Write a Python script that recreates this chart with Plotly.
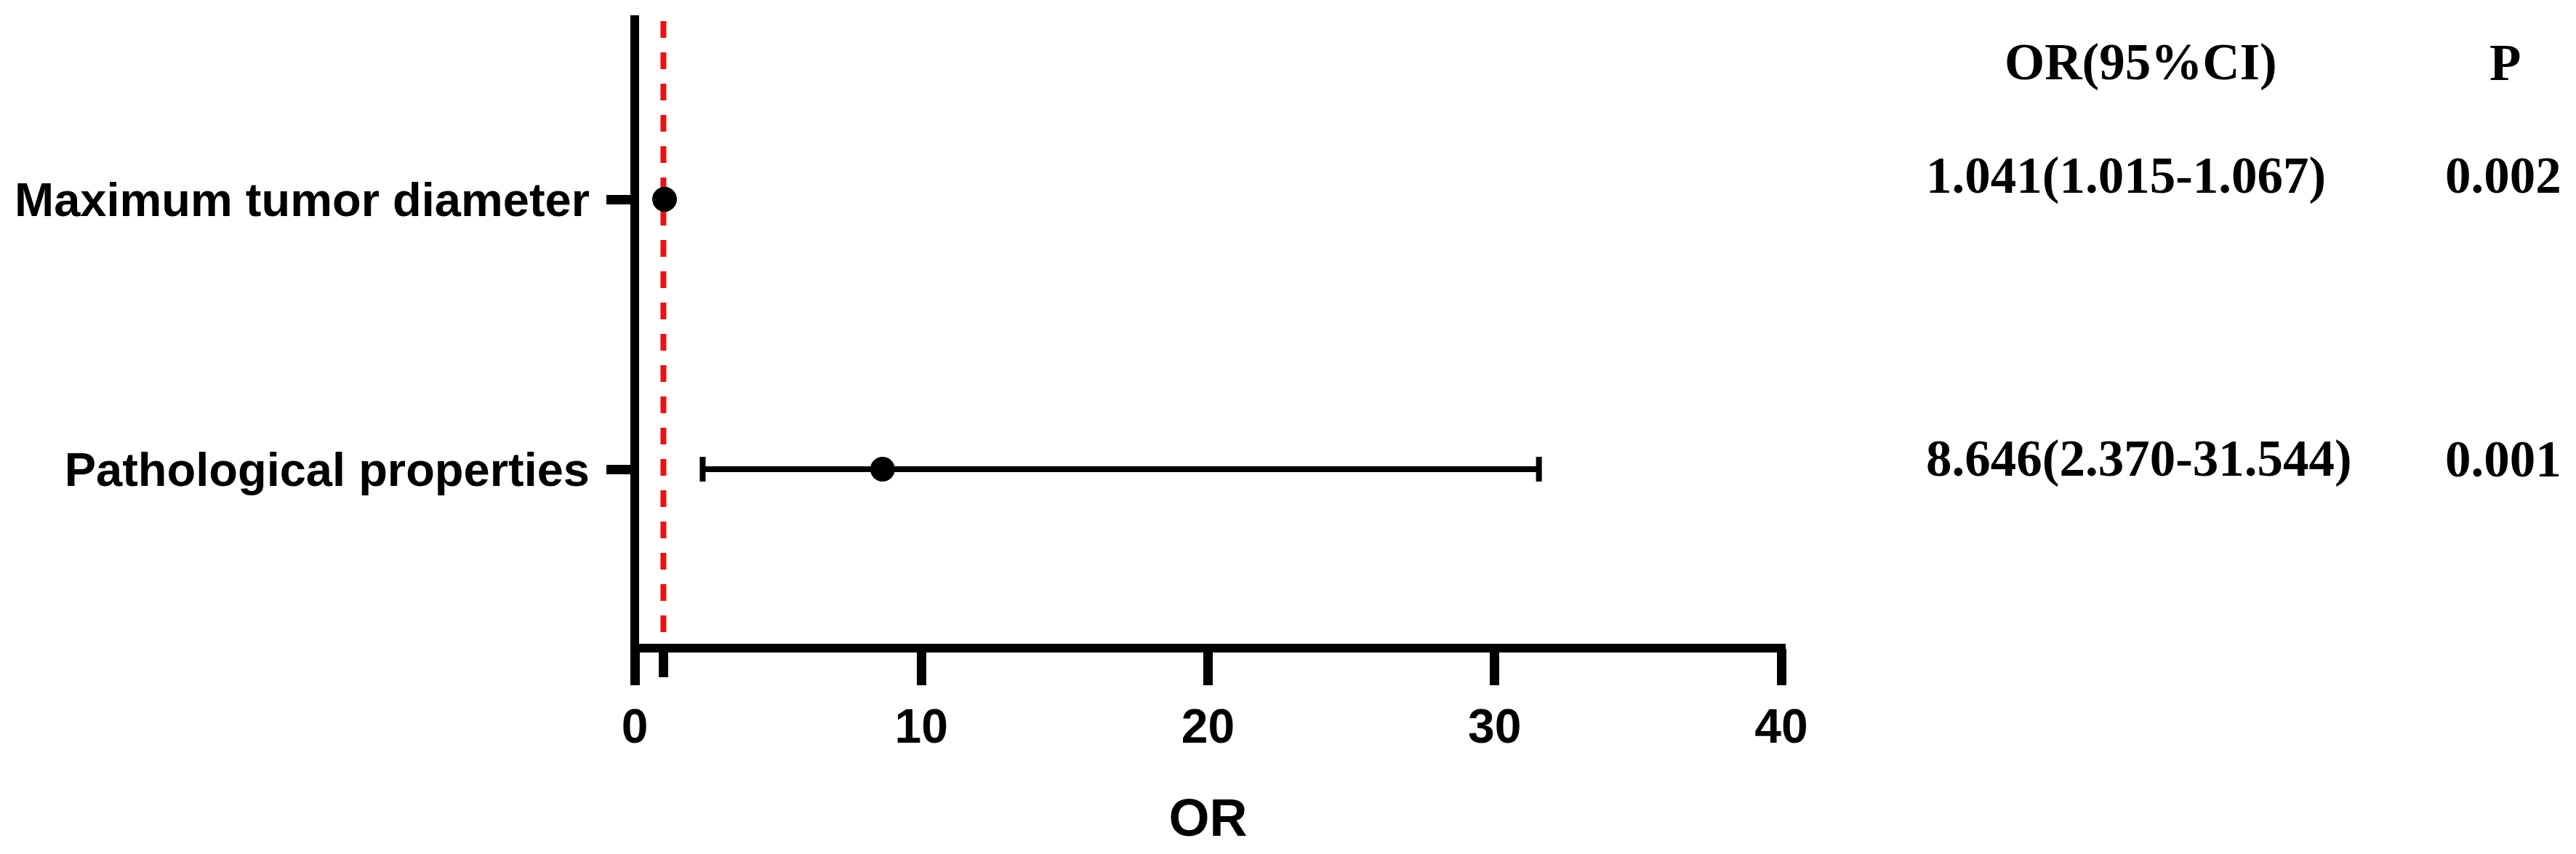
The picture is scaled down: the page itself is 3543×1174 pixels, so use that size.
import plotly.graph_objects as go

# ---- data ----
variables = ["Maximum tumor diameter", "Pathological properties"]
odds_ratio = [1.041, 8.646]
ci_lower = [1.015, 2.370]
ci_upper = [1.067, 31.544]
p_values = ["0.002", "0.001"]
or_text = ["1.041(1.015-1.067)", "8.646(2.370-31.544)"]
row_pos = [2, 1]
x_ticks = [0, 10, 20, 30, 40]
ref_value = 1

OFF = 8  # page body margin
W, H = 3543, 1174
PW, PH = 1580, 870
L, T = 870 - OFF, 21 - OFF
R, B = W - L - PW, H - T - PH

def px_x(px):
    return (px - OFF - L) / PW

def px_y(py):
    return (T + PH - (py - OFF)) / PH

sans = "Liberation Sans, Arial, sans-serif"
serif = "Liberation Serif, Times New Roman, serif"

fig = go.Figure()

fig.add_trace(go.Scatter(
    x=odds_ratio, y=row_pos, mode="markers",
    marker=dict(size=34, color="black"),
    error_x=dict(type="data", symmetric=False,
                 array=[u - o for u, o in zip(ci_upper, odds_ratio)],
                 arrayminus=[o - l for o, l in zip(odds_ratio, ci_lower)],
                 thickness=8, width=17, color="black"),
    showlegend=False, hoverinfo="skip", cliponaxis=False,
))

# reference line at OR = 1
fig.add_shape(type="line", xref="x", yref="y", x0=ref_value, x1=ref_value,
              y0=0.396, y1=2.666, layer="below",
              line=dict(color="#EE1111", width=8, dash="23px,20px"))

# axis lines
fig.add_shape(type="line", xref="paper", yref="paper", x0=0, x1=0,
              y0=-6 / PH, y1=1, line=dict(color="black", width=12))
fig.add_shape(type="line", xref="paper", yref="paper", x0=-6 / PW, x1=1 + 6 / PW,
              y0=0, y1=0, line=dict(color="black", width=12))

fig.update_xaxes(
    range=[0, 40], tickvals=x_ticks, ticktext=[str(v) for v in x_ticks],
    showline=False, showgrid=False, zeroline=False,
    ticks="outside", ticklen=50, tickwidth=13, tickcolor="black",
    tickfont=dict(family=sans, size=66, color="black", weight="bold"),
    minor=dict(tickmode="array", tickvals=[ref_value], ticks="outside",
               ticklen=39, tickwidth=13, tickcolor="black", showgrid=False),
    title=dict(text="OR", font=dict(family=sans, size=72, color="black", weight="bold"),
               standoff=64),
)
fig.update_yaxes(
    range=[0.337, 2.682], tickvals=row_pos, ticktext=variables,
    showline=False, showgrid=False, zeroline=False,
    ticks="outside", ticklen=38, tickwidth=13, tickcolor="black",
    ticklabelstandoff=10,
    tickfont=dict(family=sans, size=65, color="black", weight="bold"),
)

# right-hand table text
ann = []
hdr_y = px_y(86)
ann.append(dict(text="OR(95%CI)", x=px_x(2945), y=hdr_y, xanchor="center"))
ann.append(dict(text="P", x=px_x(3447), y=hdr_y, xanchor="center"))
text_rows_px = [241, 631]
for txt, p, py in zip(or_text, p_values, text_rows_px):
    ann.append(dict(text=txt, x=px_x(2647), y=px_y(py), xanchor="left"))
    ann.append(dict(text=p, x=px_x(3445), y=px_y(py), xanchor="center"))
for a in ann:
    a.update(xref="paper", yref="paper", yanchor="middle", showarrow=False,
             font=dict(family=serif, size=71, color="black", weight="bold"))
fig.update_layout(annotations=ann)

fig.update_layout(
    width=W, height=H, margin=dict(l=L, r=R, t=T, b=B, pad=0),
    plot_bgcolor="white", paper_bgcolor="white",
)

fig.write_html("out.html")
